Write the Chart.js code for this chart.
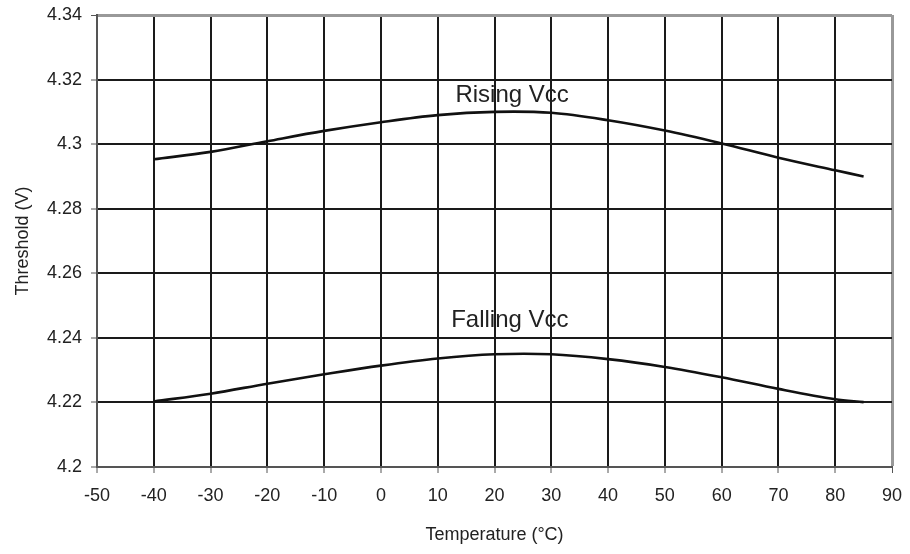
<!DOCTYPE html>
<html>
<head>
    <script src="https://cdn.jsdelivr.net/npm/chart.js"></script>
    <style>
        body { margin: 0; background: #fff; }
        #wrap { width: 910px; height: 554px; }
    </style>
</head>
<body>
<div id="wrap">
    <canvas id="chart" width="910" height="554"></canvas>
</div>

<script>
    // data
    var temps   = [-40, -30, -20, -10, 0, 10, 20, 30, 40, 50, 60, 70, 80, 85];
    var rising  = [4.2953, 4.2976, 4.3009, 4.3041, 4.3068, 4.309, 4.3100, 4.3097, 4.3074, 4.3042, 4.3002, 4.2958, 4.2919, 4.2900];
    var falling = [4.2203, 4.2227, 4.2258, 4.2287, 4.2314, 4.2336, 4.2349, 4.2349, 4.2334, 4.2310, 4.2278, 4.2242, 4.2210, 4.2201];
    var curveNames = ['Rising Vcc', 'Falling Vcc'];
    var namePos = [[23.1, 4.3150], [22.7, 4.2453]];   // where the names sit, in data units

    var font = "'Liberation Sans', Arial, sans-serif";

    function pts(ys) {
        return temps.map(function (t, i) { return { x: t, y: ys[i] }; });
    }

    // writes the curve names on the plot
    var curveLabels = {
        id: 'curveLabels',
        afterDatasetsDraw: function (chart) {
            var ctx = chart.ctx;
            ctx.save();
            ctx.font = '24px ' + font;
            ctx.fillStyle = '#222';
            ctx.textAlign = 'center';
            ctx.textBaseline = 'middle';
            curveNames.forEach(function (n, i) {
                ctx.fillText(n, chart.scales.x.getPixelForValue(namePos[i][0]),
                                chart.scales.y.getPixelForValue(namePos[i][1]));
            });
            ctx.restore();
        }
    };

    new Chart(document.getElementById('chart'), {
        type: 'line',
        data: {
            datasets: [
                { label: curveNames[0], data: pts(rising) },
                { label: curveNames[1], data: pts(falling) }
            ]
        },
        options: {
            responsive: false,
            animation: false,
            layout: { padding: { top: 15, right: 18, left: 0, bottom: 0 } },
            elements: {
                line: { borderColor: '#111', borderWidth: 2.6, tension: 0.35, fill: false },
                point: { radius: 0 }
            },
            plugins: { legend: { display: false }, tooltip: { enabled: false } },
            scales: {
                x: {
                    type: 'linear', min: -50, max: 90,
                    afterFit: function (s) { s.height = 87; s.paddingLeft = 0; s.paddingRight = 0; },
                    ticks: { stepSize: 10, color: '#222', font: { family: font, size: 18 }, padding: 12, maxRotation: 0 },
                    grid: {
                        color: function (c) { return c.tick && c.tick.value === 90 ? '#999' : '#1a1a1a'; },
                        lineWidth: function (c) { return c.tick && c.tick.value === 90 ? 3 : 2; },
                        tickLength: 6, tickColor: '#555', tickWidth: 1
                    },
                    border: { color: '#555', width: 2 },
                    title: { display: true, text: 'Temperature (°C)', color: '#222', font: { family: font, size: 18 }, padding: { top: 0, bottom: 8 } }
                },
                y: {
                    min: 4.2, max: 4.34,
                    afterFit: function (s) { s.width = 97; s.paddingTop = 0; s.paddingBottom = 0; },
                    ticks: {
                        stepSize: 0.02, color: '#222', font: { family: font, size: 18 }, padding: 9,
                        callback: function (v) { return String(Math.round(v * 100) / 100); }
                    },
                    grid: {
                        color: function (c) { return c.tick && Math.abs(c.tick.value - 4.34) < 1e-6 ? '#999' : '#1a1a1a'; },
                        lineWidth: function (c) { return c.tick && Math.abs(c.tick.value - 4.34) < 1e-6 ? 3 : 2; },
                        tickLength: 6, tickColor: '#555', tickWidth: 1
                    },
                    border: { color: '#555', width: 2 },
                    title: { display: true, text: 'Threshold (V)', color: '#222', font: { family: font, size: 18 }, padding: { top: 12, bottom: 0 } }
                }
            }
        },
        plugins: [curveLabels]
    });
</script>
</body>
</html>
